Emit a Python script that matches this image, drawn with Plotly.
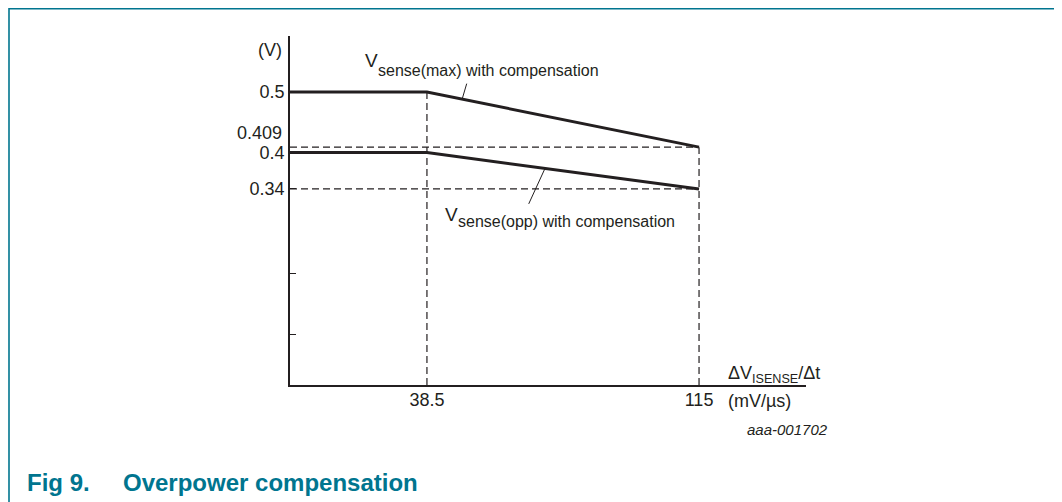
import numpy as np
import plotly.graph_objects as go

# ---- data ----
x_points = [0, 38.5, 115]            # ΔV_ISENSE/Δt (mV/µs)
v_sense_max = [0.5, 0.5, 0.409]      # V
v_sense_opp = [0.4, 0.4, 0.34]       # V
y_tick_vals = [0.1, 0.2, 0.34, 0.4, 0.5]
y_tick_text = ["", "", "0.34", "0.4", "0.5"]
x_tick_vals = [38.5, 115]
x_tick_text = ["38.5", "115"]

# ---- layout constants (page has an 8px body margin) ----
OFF = 8
W, H = 1062 - OFF, 502 - OFF
ML, MR, MT, MB = 290 - OFF, 256, 36 - OFF, 117
PW, PH = W - ML - MR, H - MT - MB
X_RANGE = [0, 145.07]
Y_RANGE = [0.0165, 0.5924]
INK = "#231f20"
TEAL = "#00758f"
FONT = "Liberation Sans, Arial, Helvetica, sans-serif"


def px_x(px):
    return (px - OFF - ML) / PW


def px_y(py):
    return (H - MB - (py - OFF)) / PH


def text_ann(px, py, text, size, anchor="left", color=INK):
    return dict(x=px_x(px), y=px_y(py), xref="paper", yref="paper", xanchor=anchor,
                yanchor="middle", showarrow=False, text=text,
                font=dict(family=FONT, size=size, color=color))


fig = go.Figure()

# dashed guide lines built from the data points
dash = dict(color=INK, width=1.2, dash="7px,4px")
fig.add_trace(go.Scatter(x=[x_points[1], x_points[1]], y=[Y_RANGE[0], v_sense_max[1]],
                         mode="lines", line=dash, hoverinfo="skip", showlegend=False))
fig.add_trace(go.Scatter(x=[x_points[2], x_points[2]], y=[Y_RANGE[0], v_sense_max[2]],
                         mode="lines", line=dash, hoverinfo="skip", showlegend=False))
fig.add_trace(go.Scatter(x=[x_points[0], x_points[2]], y=[v_sense_max[2], v_sense_max[2]],
                         mode="lines", line=dash, hoverinfo="skip", showlegend=False))
fig.add_trace(go.Scatter(x=[x_points[0], x_points[2]], y=[v_sense_opp[2], v_sense_opp[2]],
                         mode="lines", line=dash, hoverinfo="skip", showlegend=False))

# main curves
fig.add_trace(go.Scatter(x=x_points, y=v_sense_max, mode="lines",
                         line=dict(color=INK, width=3), name="Vsense(max) with compensation",
                         showlegend=False))
fig.add_trace(go.Scatter(x=x_points, y=v_sense_opp, mode="lines",
                         line=dict(color=INK, width=3), name="Vsense(opp) with compensation",
                         showlegend=False))

ann = []
# leader lines
lx1 = 48.4
ann.append(dict(x=lx1, y=float(np.interp(lx1, x_points, v_sense_max)), xref="x", yref="y",
                text="", showarrow=True, arrowhead=0, arrowwidth=1, arrowcolor=INK,
                ax=5, ay=-17))
lx2 = 71.7
ann.append(dict(x=lx2, y=float(np.interp(lx2, x_points, v_sense_opp)), xref="x", yref="y",
                text="", showarrow=True, arrowhead=0, arrowwidth=1, arrowcolor=INK,
                ax=-17, ay=37))

# curve labels (V + lowered subscript part)
ann.append(text_ann(363, 61, "V", 19))
ann.append(text_ann(376, 70, "sense(max) with compensation", 16))
ann.append(text_ann(443, 214, "V", 19))
ann.append(text_ann(456, 221, "sense(opp) with compensation", 16))

# axis texts
ann.append(text_ann(284, 50, "(V)", 18, anchor="right"))
ann.append(dict(x=0, y=v_sense_max[2], xref="paper", yref="y", xanchor="right",
                yanchor="middle", showarrow=False, text="0.409", xshift=-6, yshift=14,
                font=dict(family=FONT, size=18, color=INK)))
ann.append(text_ann(726, 374, "ΔV<sub>ISENSE</sub>/Δt", 18))
ann.append(text_ann(726, 401, "(mV/µs)", 18))
ann.append(text_ann(830, 429, "<i>aaa-001702</i>", 15, anchor="right"))

# caption
ann.append(text_ann(25, 483, "<b>Fig 9.</b>", 24, color=TEAL))
ann.append(text_ann(121, 483, "<b>Overpower compensation</b>", 24, color=TEAL))

shapes = [
    dict(type="line", xref="paper", yref="paper", x0=px_x(9), x1=px_x(1062),
         y0=px_y(OFF + 0.8), y1=px_y(OFF + 0.8), line=dict(color=TEAL, width=1.6)),
    dict(type="line", xref="paper", yref="paper", x0=px_x(9), x1=px_x(9),
         y0=px_y(OFF), y1=px_y(502), line=dict(color=TEAL, width=1.6)),
]

fig.update_layout(
    width=W, height=H,
    margin=dict(l=ML, r=MR, t=MT, b=MB, pad=0),
    paper_bgcolor="white", plot_bgcolor="white",
    showlegend=False,
    annotations=ann, shapes=shapes,
    font=dict(family=FONT, size=18, color=INK),
    xaxis=dict(range=X_RANGE, showgrid=False, zeroline=False, showline=True,
               linecolor=INK, linewidth=1.5, tickvals=x_tick_vals, ticktext=x_tick_text,
               ticks="", ticklabelstandoff=-2,
               tickfont=dict(family=FONT, size=18, color=INK), fixedrange=True),
    yaxis=dict(range=Y_RANGE, showgrid=False, zeroline=False, showline=True,
               linecolor=INK, linewidth=1.8, tickvals=y_tick_vals, ticktext=y_tick_text,
               ticks="inside", ticklen=6, tickwidth=1, tickcolor=INK,
               tickfont=dict(family=FONT, size=18, color=INK), fixedrange=True),
)

fig.write_html("out.html")
